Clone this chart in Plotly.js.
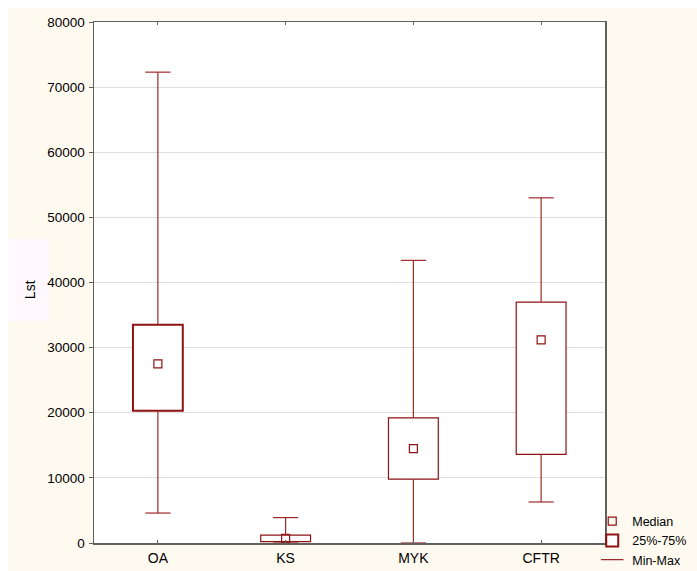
<!DOCTYPE html>
<html>
<head>
<meta charset="utf-8">
<script src="https://cdn.plot.ly/plotly-3.0.1.min.js"></script>
<style>
  html, body { margin: 0; padding: 0; background: #ffffff; }
  #chart { position: absolute; left: 8px; top: 8px; width: 689px; height: 563px; }
</style>
</head>
<body>
<div id="chart"></div>
<script>
// ---- data ----
var categories = ['OA', 'KS', 'MYK', 'CFTR'];
var minVals    = [4600,   0,    0,     6300];
var q1Vals     = [20300,  200,  9800,  13600];
var medianVals = [27500,  700,  14500, 31200];
var q3Vals     = [33500,  1200, 19200, 37000];
var maxVals    = [72300,  3900, 43400, 53000];
var yTicks     = [0, 10000, 20000, 30000, 40000, 50000, 60000, 70000, 80000];

var boxHeights = q3Vals.map(function (v, i) { return v - q1Vals[i]; });
var upperLen   = maxVals.map(function (v, i) { return v - q3Vals[i]; });
var lowerLen   = q1Vals.map(function (v, i) { return v - minVals[i]; });
var zeros      = categories.map(function () { return 0; });

var red = '#8e1212';
var redLight = '#a02828';

var traces = [
  {
    type: 'scatter', mode: 'markers', name: 'Median',
    x: categories, y: medianVals,
    marker: { symbol: 'square-open', size: 8, color: red, line: { width: 1.2, color: red } },
    hoverinfo: 'y'
  },
  {
    type: 'bar', name: '25%-75%',
    x: categories, y: boxHeights, base: q1Vals, width: 0.39,
    marker: { color: '#ffffff', line: { color: red, width: [2, 1.2, 1.2, 1.2] } }
  },
  {
    type: 'scatter', mode: 'markers', name: 'Min-Max',
    x: categories, y: maxVals,
    marker: { symbol: 'line-ew-open', size: 18, color: redLight, line: { width: 1.2, color: redLight } },
    error_y: { type: 'data', symmetric: false, array: zeros, arrayminus: upperLen,
               width: 0, thickness: 1.2, color: redLight }
  },
  {
    type: 'scatter', mode: 'markers', name: 'Min-Max', showlegend: false,
    x: categories, y: minVals,
    marker: { symbol: 'line-ew-open', size: 18, color: redLight, line: { width: 1.2, color: redLight } },
    error_y: { type: 'data', symmetric: false, array: lowerLen, arrayminus: zeros,
               width: 0, thickness: 1.2, color: redLight }
  }
];

var layout = {
  width: 689, height: 563,
  margin: { l: 86, r: 92, t: 14, b: 28, autoexpand: false },
  paper_bgcolor: '#fffaf0',
  plot_bgcolor: '#ffffff',
  font: { family: 'Liberation Sans, Arial, sans-serif', size: 13.5, color: '#000000' },
  showlegend: true,
  bargap: 0,
  xaxis: {
    type: 'category', range: [-0.5, 3.5],
    showgrid: false, zeroline: false,
    showline: true, linecolor: '#606060', linewidth: 1.5, mirror: 'ticks',
    ticks: 'inside', ticklen: 3, tickcolor: '#606060',
    ticklabelstandoff: 2,
    tickfont: { size: 14 }
  },
  yaxis: {
    range: [0, 80000], tickvals: yTicks, tickformat: 'd',
    showgrid: true, gridcolor: '#dedede', gridwidth: 1, zeroline: false,
    showline: true, linecolor: '#606060', linewidth: 1.5, mirror: true,
    ticks: 'outside', ticklen: 4, tickcolor: '#606060',
    ticklabelstandoff: 1,
    tickfont: { size: 13.5 }
  },
  legend: {
    x: 0.975, xanchor: 'left', y: 0.07, yanchor: 'top',
    bgcolor: 'rgba(0,0,0,0)', traceorder: 'normal',
    font: { size: 12.5 }, tracegroupgap: 0, itemwidth: 30
  },
  shapes: [{
    type: 'rect', xref: 'paper', yref: 'paper', layer: 'below',
    x0: -0.1683, x1: -0.088, y0: 0.426, y1: 0.5835,
    fillcolor: '#fff8fc', line: { width: 0 }
  }],
  annotations: [{
    xref: 'paper', yref: 'paper', x: -0.125, y: 0.4856, xanchor: 'center', yanchor: 'middle',
    text: 'Lst', textangle: -90, showarrow: false,
    font: { size: 14, color: '#000000' }
  }]
};

Plotly.newPlot('chart', traces, layout, { displayModeBar: false, staticPlot: true });
</script>
</body>
</html>
